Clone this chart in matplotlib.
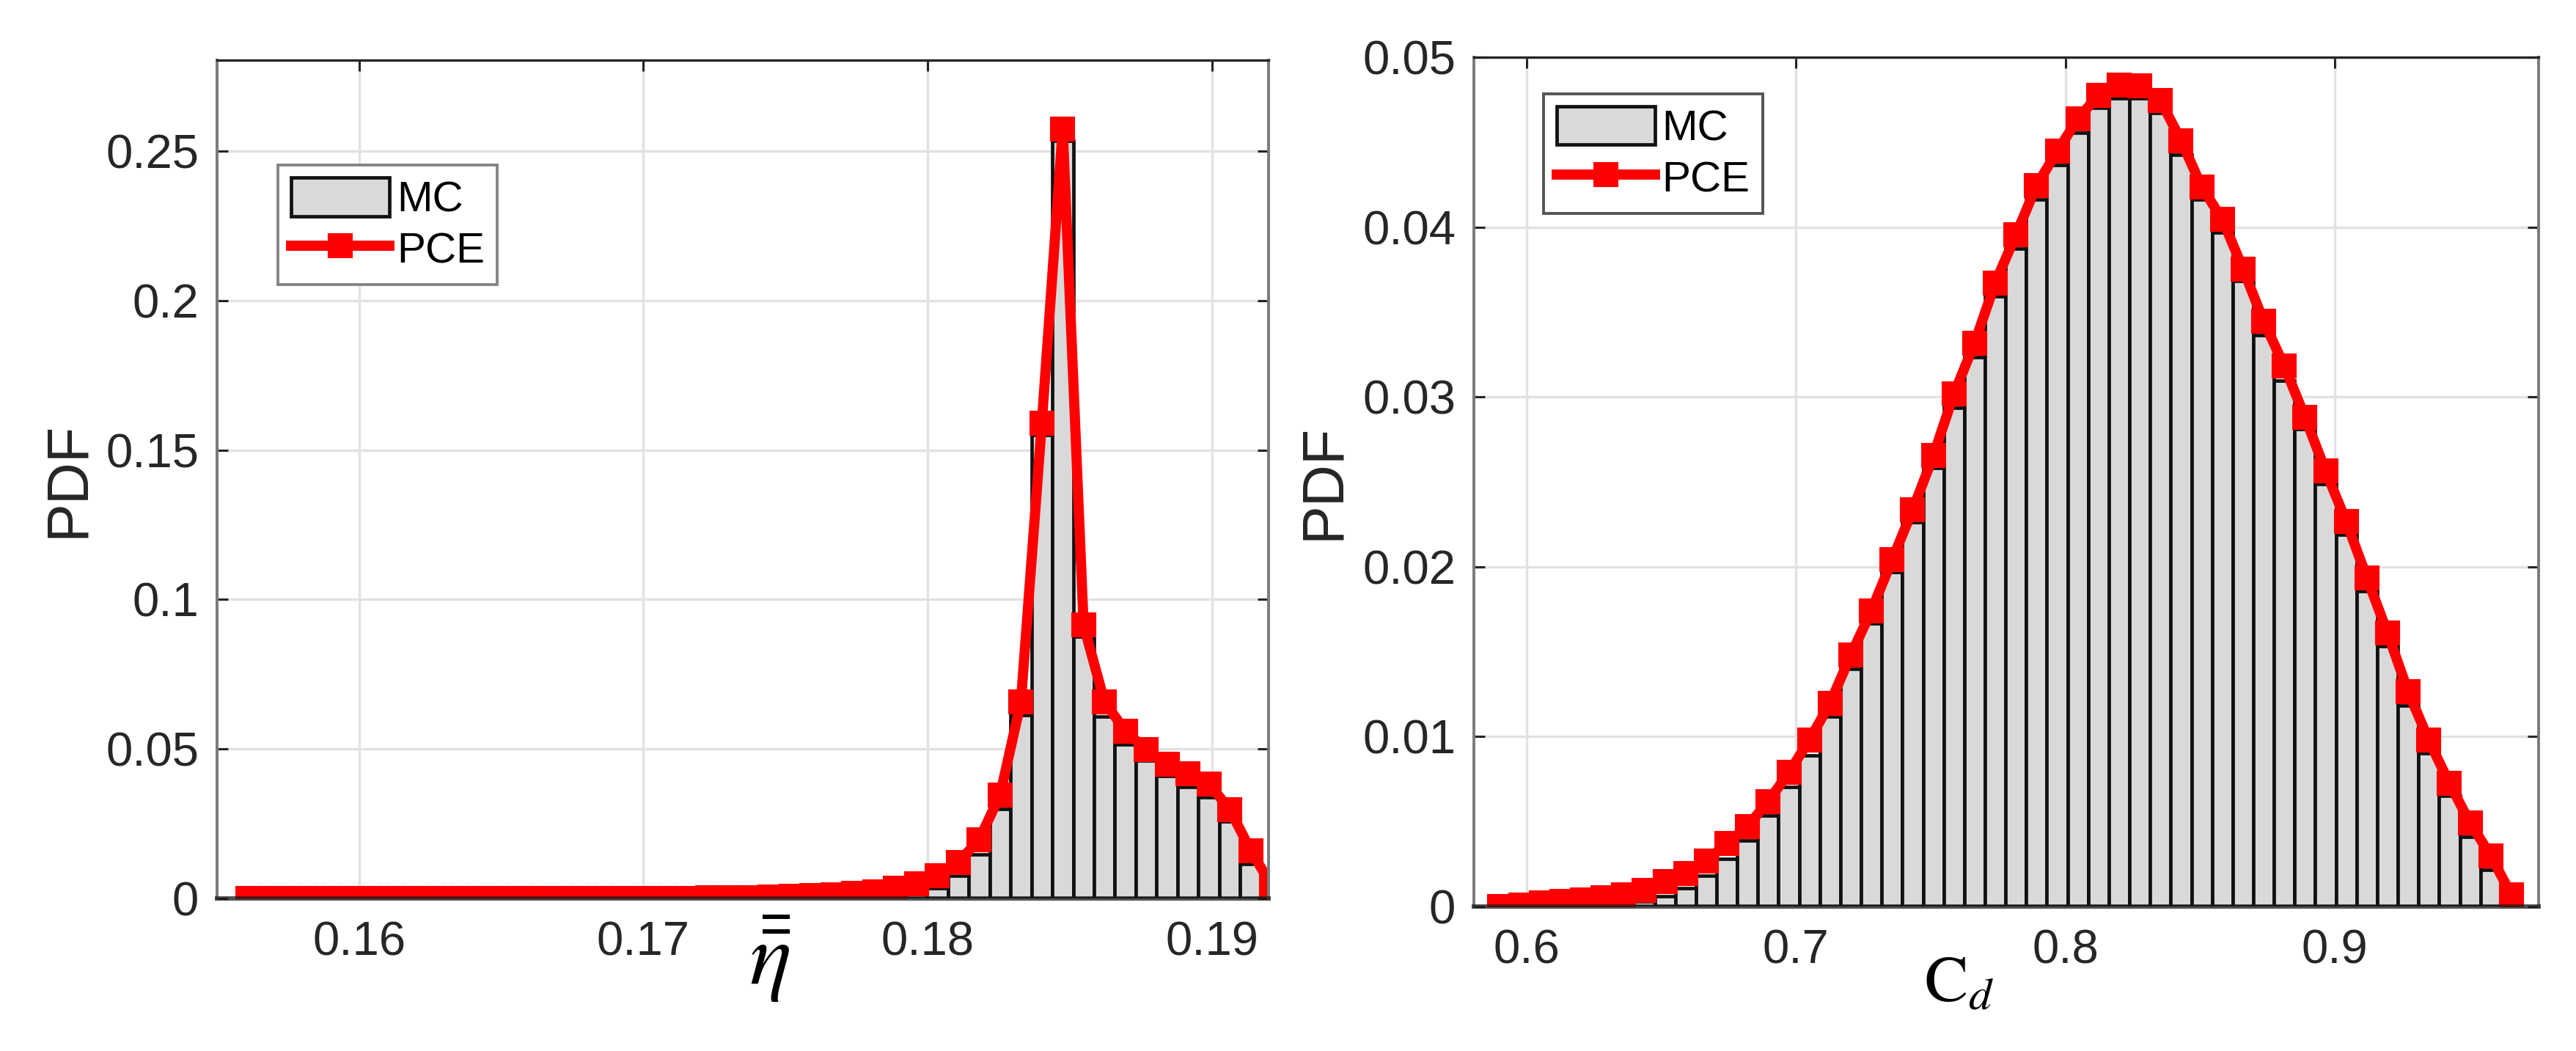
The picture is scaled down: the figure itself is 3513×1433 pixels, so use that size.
import numpy as np
import matplotlib
matplotlib.use('Agg')
from matplotlib import pyplot as plt

# ---- data ----
# left panel: eta (50 bins)
eta_first_edge = 0.15572
eta_bin_width = 0.000735
eta_mc = [0, 0, 0, 0, 0, 0, 0, 0, 0, 0,
          0, 0, 0, 0, 0, 0, 0, 0, 0, 0,
          0, 0, 0, 0, 0, 0, 0.0001, 0.0002, 0.0003, 0.0004,
          0.0006, 0.0009, 0.0015, 0.0033, 0.0077, 0.0148, 0.030, 0.0613, 0.155, 0.2535,
          0.0876, 0.0608, 0.0515, 0.046, 0.041, 0.0372, 0.0339, 0.0257, 0.0115, 0.0022]
eta_pce = [0, 0, 0, 0, 0, 0, 0, 0, 0, 0,
           0, 0, 0, 0, 0, 0, 0, 0, 0, 0,
           0.0001, 0.0001, 0.0002, 0.0002, 0.0003, 0.0004, 0.0006, 0.0009, 0.0012, 0.0017,
           0.0023, 0.0033, 0.0049, 0.0077, 0.012, 0.0197, 0.0345, 0.0658, 0.159, 0.2575,
           0.0915, 0.0658, 0.056, 0.0498, 0.0449, 0.0417, 0.0383, 0.0298, 0.016, 0.0044]

# right panel: Cd (50 bins)
cd_first_edge = 0.58626
cd_bin_width = 0.0076634
cd_mc = [0, 0, 0, 0.0001, 0.0001, 0.0001, 0.0002, 0.0003, 0.0006, 0.00109,
         0.00182, 0.00279, 0.00387, 0.00534, 0.00703, 0.00889, 0.0112, 0.01398, 0.01668, 0.01969,
         0.02263, 0.02581, 0.02936, 0.03236, 0.03591, 0.03873, 0.04163, 0.04363, 0.04554, 0.047,
         0.04758, 0.04758, 0.04673, 0.04427, 0.04163, 0.03969, 0.03681, 0.03363, 0.03096, 0.02812,
         0.02486, 0.02187, 0.01856, 0.01532, 0.01185, 0.00904, 0.0065, 0.0041, 0.00217, 0.0005]
cd_pce = [0, 0.0001, 0.0002, 0.0003, 0.0004, 0.0005, 0.0007, 0.00094, 0.00145, 0.00194,
          0.00268, 0.00372, 0.00472, 0.00619, 0.00788, 0.00981, 0.01197, 0.0148, 0.01742, 0.0204,
          0.02335, 0.02654, 0.03018, 0.03318, 0.03672, 0.03954, 0.04245, 0.04446, 0.04637, 0.04777,
          0.04837, 0.04833, 0.04745, 0.04509, 0.04236, 0.04045, 0.03754, 0.03445, 0.03181, 0.02881,
          0.02564, 0.02266, 0.01935, 0.0161, 0.01264, 0.00978, 0.00724, 0.00492, 0.00299, 0.00068]

eta_xticks = [0.16, 0.17, 0.18, 0.19]
eta_yticks = [0, 0.05, 0.1, 0.15, 0.2, 0.25]
eta_yticklabels = ['0', '0.05', '0.1', '0.15', '0.2', '0.25']
cd_xticks = [0.6, 0.7, 0.8, 0.9]
cd_yticks = [0, 0.01, 0.02, 0.03, 0.04, 0.05]
cd_yticklabels = ['0', '0.01', '0.02', '0.03', '0.04', '0.05']

plt.rcParams['font.family'] = ['Liberation Sans', 'DejaVu Sans']
plt.rcParams['mathtext.fontset'] = 'stix'

fig = plt.figure(figsize=(35.13, 14.33), dpi=100)
ax1 = fig.add_axes([0.0843, 0.1452, 0.4082, 0.7976])
ax2 = fig.add_axes([0.5722, 0.1375, 0.4133, 0.8081])


def draw_panel(ax, first_edge, width, mc, pce):
    n = len(mc)
    edges = first_edge + width * np.arange(n + 1)
    centers = edges[:-1] + width / 2
    bars = ax.bar(edges[:-1], mc, width=width, align='edge', color='#d9d9d9',
                  edgecolor='#111111', linewidth=3.4, label='MC', zorder=1)
    line, = ax.plot(centers, pce, '-s', color='#ff0000', lw=10, ms=23, mec='#ff0000',
                    mew=1.5, label='PCE', zorder=2)
    return bars, line


def style_axes(ax):
    ax.set_axisbelow(True)
    ax.grid(True, color='#e2e2e2', linewidth=2.5)
    ax.tick_params(direction='in', top=True, right=True, length=11, width=2.2,
                   color='#262626', labelcolor='#262626', labelsize=47)
    ax.tick_params(axis='x', pad=22)
    ax.tick_params(axis='y', pad=18)
    for side in ['top', 'bottom']:
        ax.spines[side].set_color('#262626')
        ax.spines[side].set_linewidth(2.4)
    ax.spines['bottom'].set_color((0.1, 0.1, 0.1, 0.75))
    ax.spines['bottom'].set_linewidth(4.3)
    for side in ['left', 'right']:
        ax.spines[side].set_color('#7a7a7a')
        ax.spines[side].set_linewidth(2.8)
    ax.set_ylabel('PDF', fontsize=57, color='#262626')
    ax.yaxis.set_label_coords(-0.115, 0.5)


def add_legend(ax, handles, anchor, edgecolor):
    leg = ax.legend(handles, ['MC', 'PCE'], loc='upper left', bbox_to_anchor=anchor,
                    borderaxespad=0, fontsize=42, handlelength=2.3, handleheight=1.0,
                    handletextpad=0.17, labelspacing=0.2, borderpad=0.3,
                    fancybox=False, framealpha=1)
    leg.get_frame().set_edgecolor(edgecolor)
    leg.get_frame().set_linewidth(2.8)


# left panel
h1 = draw_panel(ax1, eta_first_edge, eta_bin_width, eta_mc, eta_pce)
style_axes(ax1)
ax1.set_xlim(0.155, 0.192)
ax1.set_ylim(0, 0.2805)
ax1.set_xticks(eta_xticks)
ax1.set_xticklabels([str(t) for t in eta_xticks])
ax1.set_yticks(eta_yticks)
ax1.set_yticklabels(eta_yticklabels)
ax1.set_xlabel(r'$\bar{\bar{\eta}}$', fontsize=86)
ax1.xaxis.set_label_coords(0.526, -0.018)
add_legend(ax1, h1, (0.058, 0.875), '#858585')

# right panel
h2 = draw_panel(ax2, cd_first_edge, cd_bin_width, cd_mc, cd_pce)
style_axes(ax2)
ax2.set_xlim(0.5805, 0.9757)
ax2.set_ylim(0, 0.05)
ax2.set_xticks(cd_xticks)
ax2.set_xticklabels([str(t) for t in cd_xticks])
ax2.set_yticks(cd_yticks)
ax2.set_yticklabels(cd_yticklabels)
ax2.set_xlabel(r'$\mathrm{C}_{d}$', fontsize=64)
ax2.xaxis.set_label_coords(0.456, -0.055)
add_legend(ax2, h2, (0.0654, 0.957), '#555555')

fig.savefig('out.png', dpi=100, facecolor='white')
